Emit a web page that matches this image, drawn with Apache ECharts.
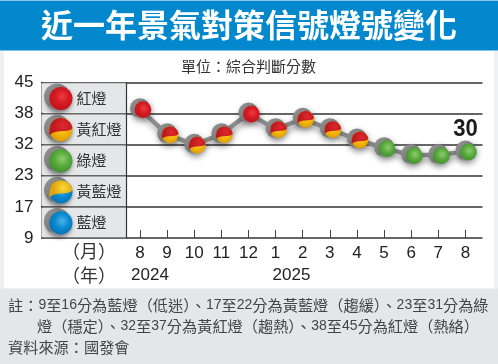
<!DOCTYPE html>
<html><head><meta charset="utf-8">
<style>html,body{margin:0;padding:0;background:#fff}#c{width:498px;height:364px}</style>
<script src="https://cdn.jsdelivr.net/npm/echarts@6/dist/echarts.min.js"></script>
</head><body><div id="c"></div>
<script>
const titleText = '近一年景氣對策信號燈號變化';
const unitText = '單位\uFF1A綜合判斷分數';
const months = ['8','9','10','11','12','1','2','3','4','5','6','7','8'];
const years = ['2024','2025'];
const scores = [39,34,32,34,38,35,37,35,33,31,29,29,30];
const tickScores = [9,17,23,32,38,45];
const lampNames = ['藍燈','黃藍燈','綠燈','黃紅燈','紅燈'];
const lastLabel = '30';
const monthHead = '\uFF08月\uFF09';
const yearHead = '\uFF08年\uFF09';
const noteLines = [
 '註\uFF1A9至16分為藍燈\uFF08低迷\uFF09\u300117至22分為黃藍燈\uFF08趨緩\uFF09\u300123至31分為綠',
 '燈\uFF08穩定\uFF09\u300132至37分為黃紅燈\uFF08趨熱\uFF09\u300138至45分為紅燈\uFF08熱絡\uFF09',
 '資料來源\uFF1A國發會'
];

const CJK = '"Noto Sans CJK TC"';
const LAT = 'Liberation Sans';

function toBand(s){
  for(let i=0;i<tickScores.length-1;i++){
    if(s<=tickScores[i+1]) return i+(s-tickScores[i])/(tickScores[i+1]-tickScores[i]);
  }
  return tickScores.length-1;
}
const lightOf = s => s>=38?'red':s>=32?'yr':s>=23?'green':s>=17?'yb':'blue';
const PAL = {
  red:['#ee3a40','#d31a22','#c4121b'],
  green:['#8ecb72','#5aab3c','#3e8f2c'],
  blue:['#4cb4e8','#0a8ad0','#0670b4'],
  yellow:['#ffd83a','#f3b40a','#dc9c00']
};
function ball(c){
  return {type:'radial',x:0.55,y:0.42,r:0.62,colorStops:[
    {offset:0,color:PAL[c][0]},{offset:0.5,color:PAL[c][1]},{offset:1,color:PAL[c][2]}]};
}
function lamp(kind,cx,cy,r,ratio,shadow){
  const k = r/10;
  const ch = [];
  ch.push({type:'circle',shape:{cx,cy,r},style:{
    fill:{type:'linear',x:0,y:0,x2:1,y2:1,colorStops:[{offset:0,color:'#9a9a9a'},{offset:0.55,color:'#767676'},{offset:1,color:'#b4b4b4'}]},
    shadowBlur:shadow,shadowColor:'rgba(0,0,0,.45)',shadowOffsetX:1.5*k,shadowOffsetY:3*k}});
  const bx=cx+3*k, by=cy+1.5*k, br=r*ratio;
  const mainC = {red:'red',yr:'yellow',green:'green',yb:'blue',blue:'blue'}[kind];
  ch.push({type:'circle',shape:{cx:bx,cy:by,r:br},style:{fill:ball(mainC)}});
  if(kind==='yr'||kind==='yb'){
    const tone = kind==='yr'?'red':'yellow';
    ch.push({type:'path',shape:{
      pathData:'M 20 9 A 10 10 0 0 0 2 4 C 0.4 6.5 -0.3 12 0.5 15 C 6 9 15 14 20 9 Z',
      layout:'cover',x:bx-br,y:by-br,width:2*br,height:2*br*0.74},
      style:{fill:{type:'radial',x:0.6,y:0.45,r:0.6,colorStops:[{offset:0,color:tone==='red'?'#e0282e':'#ffd83a'},{offset:1,color:tone==='red'?'#bb1a1e':'#e0a408'}]}}});
  }
  return ch;
}
function noteRich(t){ return t.replace(/(\d+)/g,'{d|$1}'); }
function noteText(t,x,y){
  return {type:'text',style:{text:noteRich(t),x,y,verticalAlign:'middle',font:'15.2px '+CJK,fill:'#444',
    rich:{d:{fontFamily:LAT,fontSize:14,fill:'#444',verticalAlign:'bottom'}}}};
}

const GRID_TOP=82.5, GRID_H=155.5;
const option = {
  animation:false,
  backgroundColor:'#fff',
  title:[
    {text:titleText,left:'center',top:3,padding:0,textStyle:{color:'#fff',fontFamily:CJK,fontWeight:'bold',fontSize:32,lineHeight:44}},
    {text:unitText,left:248.5,textAlign:'center',top:57,padding:0,textStyle:{color:'#333',fontFamily:CJK,fontWeight:'normal',fontSize:15,lineHeight:18}}
  ],
  graphic:[
    {type:'rect',z:-1,silent:true,shape:{x:0,y:0,width:498,height:50.5},style:{fill:'#0388cd'}},
    {type:'rect',z:-1,silent:true,shape:{x:0,y:0,width:498,height:1},style:{fill:'#8cc8e6'}},
    {type:'rect',z:-1,silent:true,shape:{x:0,y:51,width:4,height:238},style:{fill:'#eef0f2'}},
    {type:'rect',z:-1,silent:true,shape:{x:494,y:51,width:4,height:238},style:{fill:'#eef0f2'}},
    {type:'rect',z:-1,silent:true,shape:{x:0,y:288.5,width:498,height:76},style:{fill:'#e4e6e8'}},
    {type:'text',style:{text:monthHead,x:89,y:251,align:'center',verticalAlign:'middle',font:'18px '+CJK,fill:'#333'}},
    {type:'text',style:{text:yearHead,x:89,y:275,align:'center',verticalAlign:'middle',font:'18px '+CJK,fill:'#333'}},
    {type:'text',style:{text:years[0],x:150,y:275,align:'center',verticalAlign:'middle',font:'17px "Liberation Sans"',fill:'#222'}},
    {type:'text',style:{text:years[1],x:291.5,y:275,align:'center',verticalAlign:'middle',font:'17px "Liberation Sans"',fill:'#222'}},
    noteText(noteLines[0],8,305),
    noteText(noteLines[1],37,326),
    noteText(noteLines[2],8,347)
  ],
  grid:[
    {left:41.5,top:GRID_TOP,width:441,height:GRID_H,show:false},
    {left:126.4,top:GRID_TOP,width:352.6,height:GRID_H,show:false}
  ],
  xAxis:[
    {gridIndex:0,type:'value',min:0,max:441,show:false},
    {gridIndex:1,type:'category',data:months,position:'bottom',
     axisLine:{show:false},
     axisTick:{show:true,inside:true,alignWithLabel:true,length:8,lineStyle:{color:'#444',width:1}},
     axisLabel:{color:'#222',fontSize:17,fontFamily:LAT,margin:7,interval:0}}
  ],
  yAxis:[
    {gridIndex:0,type:'value',min:0,max:5,interval:1,
     axisLine:{show:true,lineStyle:{color:'#333',width:1.5}},
     axisTick:{show:false},
     splitLine:{show:true,lineStyle:{color:'#333',width:1.5}},
     axisLabel:{color:'#222',fontSize:17,fontFamily:LAT,margin:8,padding:[2,0,0,0],formatter:(v)=>String(tickScores[v])}},
    {gridIndex:1,type:'value',min:0,max:5,interval:1,show:false}
  ],
  series:[
    {type:'custom',xAxisIndex:0,yAxisIndex:0,coordinateSystem:'cartesian2d',z:1,silent:true,clip:false,
     data:lampNames.map((n,i)=>[i]),
     encode:{x:-1,y:0},
     renderItem(p,api){
       const i=api.value(0);
       const a=api.coord([0,i+1]), b=api.coord([85,i]);
       const cy=(a[1]+b[1])/2;
       const kind=['blue','yb','green','yr','red'][i];
       return {type:'group',children:[
         {type:'rect',shape:{x:a[0],y:a[1]+.8,width:b[0]-a[0],height:b[1]-a[1]-1.6},style:{fill:'#e5e6e8'}},
         {type:'line',shape:{x1:b[0],y1:a[1],x2:b[0],y2:b[1]},style:{stroke:'#333',lineWidth:1.2}},
         ...lamp(kind,a[0]+15.5,cy-1.5,13,0.89,4),
         {type:'text',style:{text:lampNames[i],x:a[0]+35,y:cy,verticalAlign:'middle',font:'15px '+CJK,fill:'#333'}}
       ]};
     }},
    {type:'line',xAxisIndex:1,yAxisIndex:1,z:3,silent:true,showSymbol:false,symbol:'none',
     data:scores.map(toBand),
     lineStyle:{color:'#8c8c8c',width:4.5,shadowBlur:6,shadowColor:'rgba(0,0,0,.35)',shadowOffsetX:1,shadowOffsetY:4}},
    {type:'custom',xAxisIndex:1,yAxisIndex:1,coordinateSystem:'cartesian2d',z:4,silent:true,clip:false,
     data:scores.map((s,i)=>[i,toBand(s),s]),
     encode:{x:0,y:1},
     renderItem(p,api){
       const c=api.coord([api.value(0),api.value(1)]);
       const s=api.value(2);
       const kids=lamp(lightOf(s),c[0],c[1]-1,10,0.84,6);
       if(p.dataIndex===scores.length-1){
         kids.push({type:'text',x:c[0],y:c[1]-22,scaleX:0.92,scaleY:1,
           style:{text:lastLabel,x:0,y:0,align:'center',verticalAlign:'middle',
           font:'bold 24px "Liberation Sans"',fill:'#1a1a1a'}});
       }
       return {type:'group',children:kids};
     }}
  ]
};
const chart=echarts.init(document.getElementById('c'),null,{renderer:'canvas'});
chart.setOption(option);
</script></body></html>
